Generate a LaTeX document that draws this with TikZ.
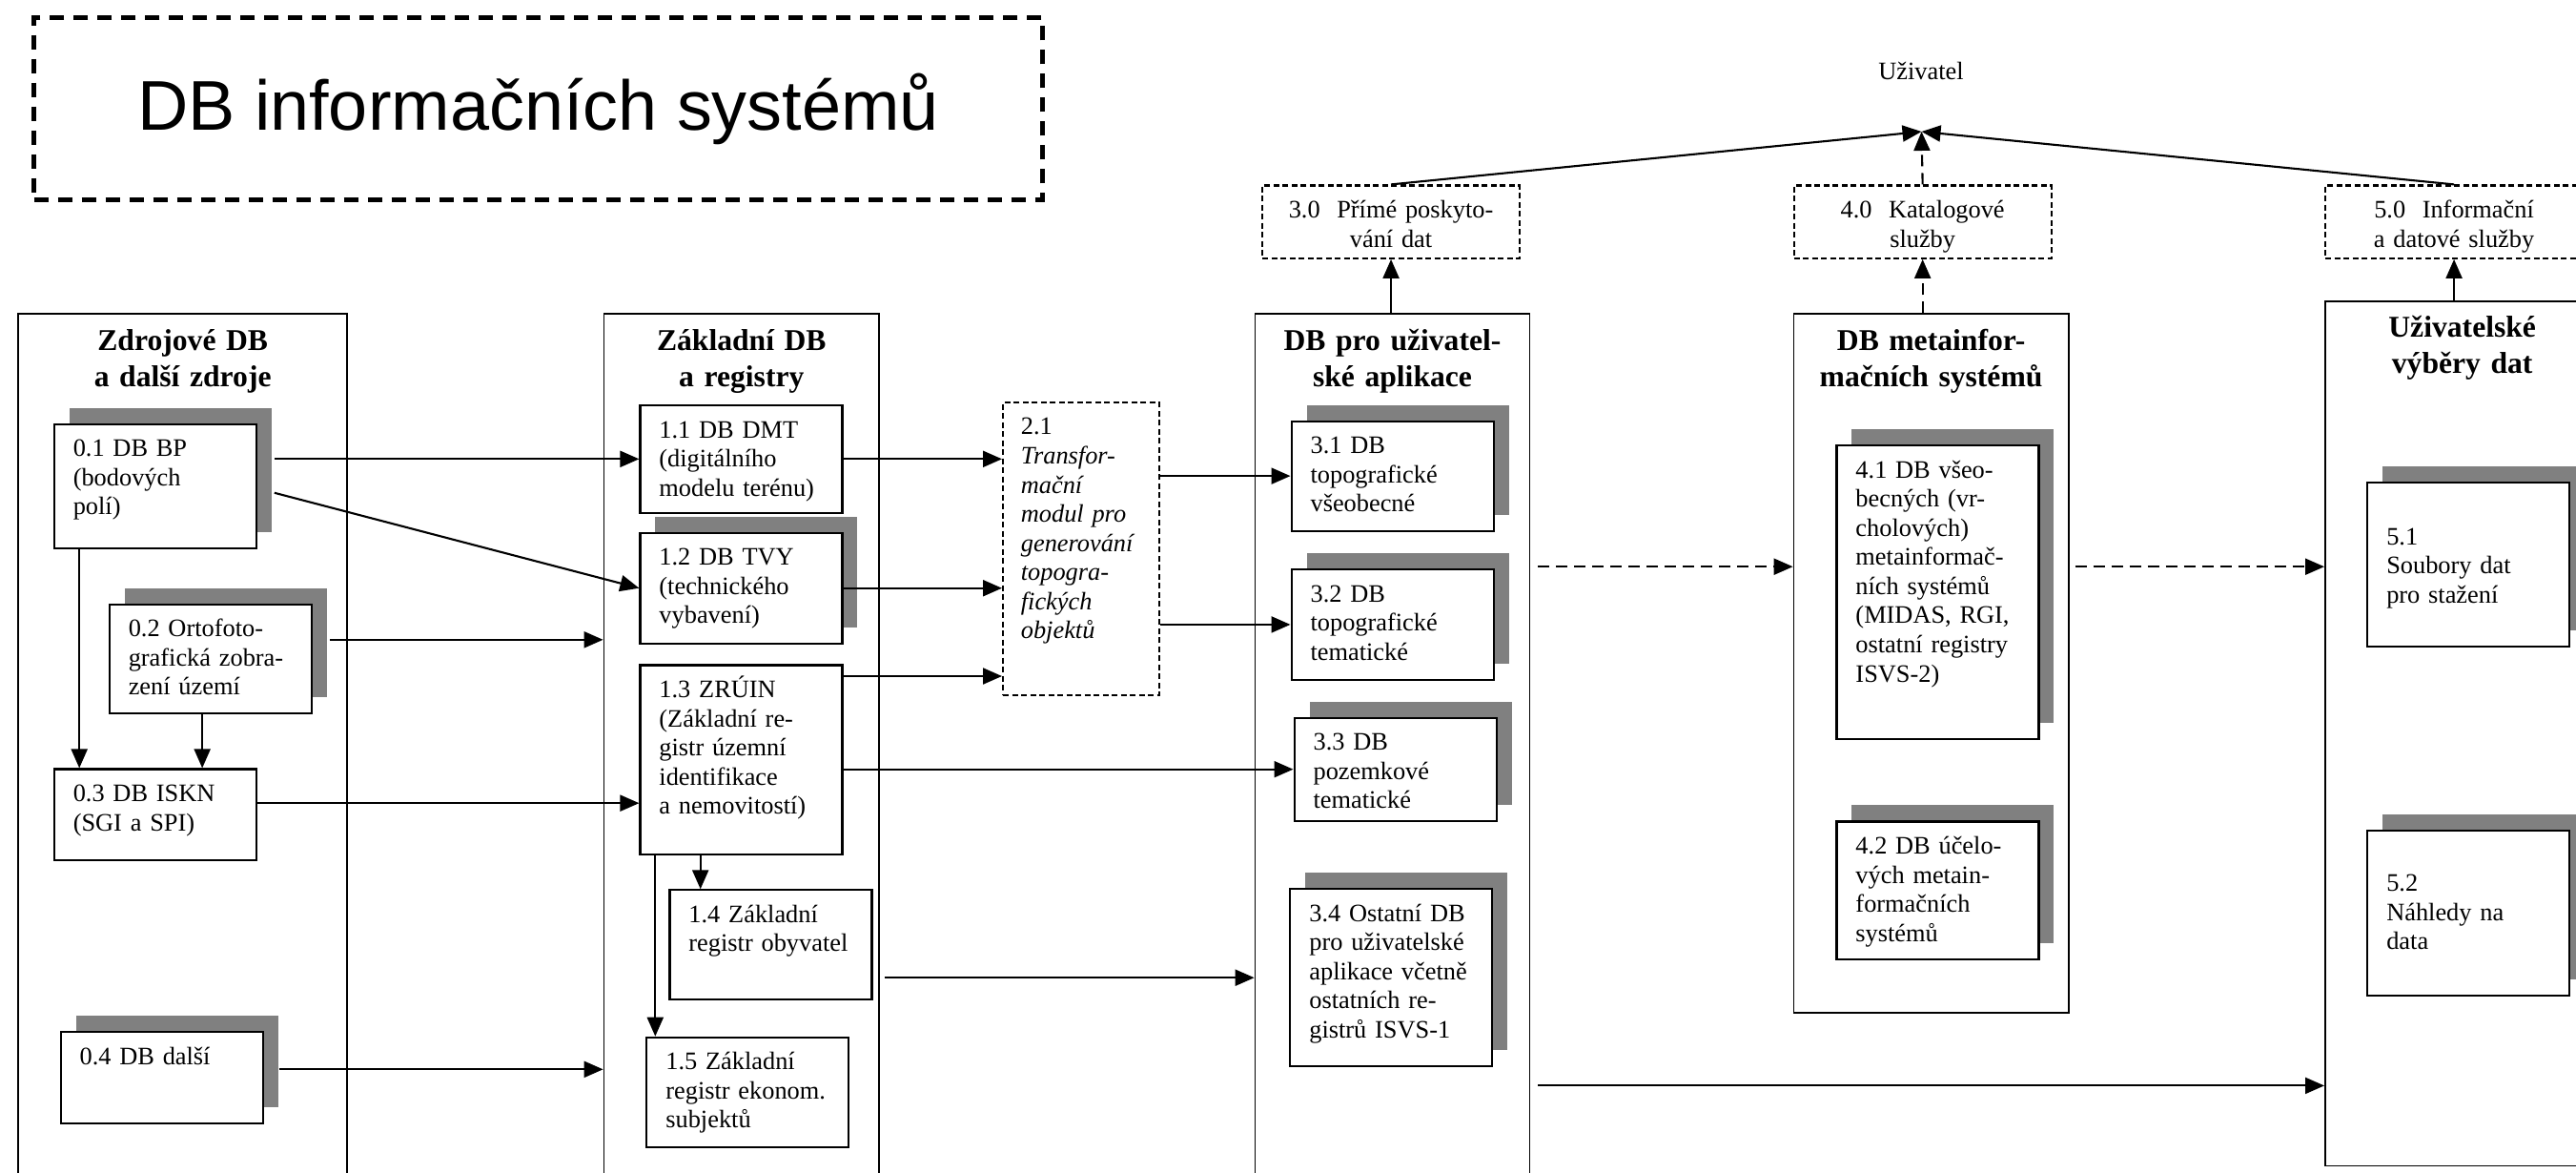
\documentclass[tikz,border=0pt]{standalone}
\usepackage{fontspec}
\setmainfont{Liberation Serif}
\newfontfamily\headfont{Liberation Sans}
\usetikzlibrary{positioning,arrows.meta,shadows}

\newcommand{\dbfont}{\fontsize{7.5}{8.7}\selectfont}
\newcommand{\colfont}{\fontsize{9}{10.65}\selectfont\bfseries}

\begin{document}
\begin{tikzpicture}
    % Define styles
    \tikzstyle{dbcolumn} = [rectangle, draw=black, line width=0.5pt, anchor=north west, align=center, inner sep=0pt, text height=0.387cm, font=\colfont]
    \tikzstyle{dbbox} = [rectangle, draw=black, fill=white, line width=0.6pt, anchor=north west, align=left, inner xsep=0.2cm, inner ysep=0pt, text width=1.72cm, text height=0.34cm, font=\dbfont]
    \tikzstyle{shadowbox} = [drop shadow={shadow xshift=0.16cm, shadow yshift=0.17cm, fill=gray, opacity=1}]
    \tikzstyle{tbox} = [dbbox, dash pattern=on 0.06cm off 0.035cm]
    \tikzstyle{svcbox} = [tbox, align=center, text width=2.3cm, text height=0.345cm, text depth=0.419cm]
    \tikzstyle{flow} = [line width=0.6pt, -{Triangle[length=0.2cm, width=0.17cm]}]
    \tikzstyle{dflow} = [flow, dash pattern=on 0.12cm off 0.07cm]

    \fill[white, use as bounding box] (0,0) rectangle (27.02,-12.29);

    % Title
    \node[draw, line width=1.3pt, dash pattern=on 0.15cm off 0.1cm, minimum width=10.578cm, minimum height=1.911cm, inner sep=0pt, font=\headfont\fontsize{21}{25}\selectfont] (title) at (5.645,-1.14) {DB informačních systémů};

    % Columns
    \node[dbcolumn, text width=3.449cm, text depth=8.93cm] (col1) at (0.184,-3.283) {Zdrojové DB\\a další zdroje};
    \node[dbcolumn, text width=2.886cm, text depth=8.93cm] (col2) at (6.326,-3.283) {Základní DB\\a registry};
    \node[dbcolumn, text width=2.881cm, text depth=8.93cm] (col3) at (13.156,-3.283) {DB pro uživatel-\\ské aplikace};
    \node[dbcolumn, text width=2.882cm, text depth=6.944cm] (col4) at (18.806,-3.283) {DB metainfor-\\mačních systémů};
    \node[dbcolumn, text width=2.876cm, text height=0.379cm, text depth=8.686cm] (col5) at (24.38,-3.151) {Uživatelské\\výběry dat};

    % Source databases
    \node[dbbox, shadowbox, text depth=0.96cm] (b01) at (0.557,-4.437) {0.1 DB BP\\(bodových\\polí)};
    \node[dbbox, shadowbox, text depth=0.803cm] (b02) at (1.137,-6.326) {0.2 Ortofoto-\\grafická zobra-\\zení území};
    \node[dbbox, text depth=0.614cm] (b03) at (0.557,-8.054) {0.3 DB ISKN\\(SGI a SPI)};
    \node[dbbox, shadowbox, text depth=0.615cm] (b04) at (0.626,-10.81) {0.4 DB další};

    % Basic databases and registers
    \node[dbbox, text depth=0.785cm] (b11) at (6.704,-4.24) {1.1 DB DMT\\(digitálního\\modelu terénu)};
    \node[dbbox, shadowbox, text depth=0.821cm, below=0.19cm of b11] (b12) {1.2 DB TVY\\(technického\\vybavení)};
    \node[dbbox, text depth=1.643cm] (b13) at (6.704,-6.964) {1.3 ZRÚIN\\(Základní re-\\gistr územní\\identifikace\\a nemovitostí)};
    \node[dbbox, text depth=0.805cm] (b14) at (7.014,-9.323) {1.4 Základní\\registr obyvatel};
    \node[dbbox, text depth=0.815cm] (b15) at (6.773,-10.867) {1.5 Základní\\registr ekonom.\\subjektů};

    % Transformation module
    \node[tbox, text width=1.26cm, inner xsep=0.188cm, text depth=2.735cm] (b21) at (10.51,-4.208) {2.1\\\itshape Transfor-\\mační\\modul pro\\generování\\topogra-\\fických\\objektů};

    % User application databases
    \node[svcbox] (b30) at (13.23,-1.934) {3.0\ \ Přímé poskyto-\\vání dat};
    \node[dbbox, shadowbox, text depth=0.809cm] (b31) at (13.535,-4.406) {3.1 DB\\topografické\\všeobecné};
    \node[dbbox, shadowbox, text depth=0.815cm, below=0.385cm of b31] (b32) {3.2 DB\\topografické\\tematické};
    \node[dbbox, shadowbox, text depth=0.738cm, below=0.38cm of b32, xshift=0.03cm] (b33) {3.3 DB\\pozemkové\\tematické};
    \node[dbbox, shadowbox, text depth=1.521cm] (b34) at (13.523,-9.311) {3.4 Ostatní DB\\pro uživatelské\\aplikace včetně\\ostatních re-\\gistrů ISVS-1};

    % Metainformation systems
    \node[svcbox] (b40) at (18.806,-1.934) {4.0\ \ Katalogové\\služby};
    \node[dbbox, shadowbox, text depth=2.738cm] (b41) at (19.254,-4.66) {4.1 DB všeo-\\becných (vr-\\cholových)\\metainformač-\\ních systémů\\(MIDAS, RGI,\\ostatní registry\\ISVS-2)};
    \node[dbbox, shadowbox, text depth=1.108cm, below=0.845cm of b41] (b42) {4.2 DB účelo-\\vých metain-\\formačních\\systémů};

    % User data selections
    \node[svcbox] (b50) at (24.38,-1.934) {5.0\ \ Informační\\a datové služby};
    \node[dbbox, shadowbox, text height=0.65cm, text depth=1.073cm] (b51) at (24.822,-5.05) {5.1\\Soubory dat\\pro stažení};
    \node[dbbox, shadowbox, text height=0.637cm, text depth=1.091cm] (b52) at (24.822,-8.697) {5.2\\Náhledy na\\data};

    % User
    \node[font=\dbfont, anchor=base] (user) at (20.15,-0.832) {Uživatel};
    \coordinate (apex) at (20.155,-1.38);
    \coordinate (mid) at (0,-5.942);
    \coordinate (low) at (0,-11.384);

    % Connections
    \draw[flow] ([xshift=0.18cm]b01.east |- b11.west) -- (b11.west);
    \draw[flow] ([shift={(0.18cm,-0.07cm)}]b01.east) -- (b12.west);
    \draw[flow] ([xshift=0.275cm]b01.south west) -- ([xshift=0.275cm]b03.north west);
    \draw[flow] ([xshift=-0.086cm]b02.south) -- ([xshift=-0.086cm]b02.south |- b03.north);
    \draw[flow] ([shift={(0.18cm,0.2cm)}]b02.east) coordinate (o2) -- (o2 -| col2.west);
    \draw[flow] ([yshift=0.12cm]b03.east) coordinate (o3) -- (o3 -| b13.west);
    \draw[flow] ([shift={(0.16cm,0.085cm)}]b04.east) coordinate (o4) -- (o4 -| col2.west);
    \draw[flow] (b11.east) -- (b11.east -| b21.west);
    \draw[flow] (b12.east) -- (b12.east -| b21.west);
    \draw[flow] ([yshift=-0.126cm]b13.north east) coordinate (o13) -- (o13 -| b21.west);
    \draw[flow] (b13.east |- b33.west) -- (b33.west);
    \draw[flow] ([xshift=0.333cm]b14.north west |- b13.south) -- ([xshift=0.333cm]b14.north west);
    \draw[flow] ([xshift=0.1cm]b15.north west |- b13.south) -- ([xshift=0.1cm]b15.north west);
    \draw[flow] ([xshift=0.05cm]col2.east |- b34.west) -- (col3.west |- b34.west);
    \draw[flow] (b21.east |- b31.west) -- (b31.west);
    \draw[flow] (b21.east |- b32.west) -- (b32.west);
    \draw[flow] (b30.south |- col3.north) -- (b30.south);
    \draw[dflow] ([xshift=0.08cm]col3.east |- mid) -- (col4.west |- mid);
    \draw[dflow] ([xshift=0.06cm]col4.east |- mid) -- (col5.west |- mid);
    \draw[flow] ([xshift=0.08cm]col3.east |- low) -- (col5.west |- low);
    \draw[dflow] (b40.south |- col4.north) -- (b40.south);
    \draw[flow] (b50.south |- col5.north) -- (b50.south);
    \draw[flow] (b30.north) -- (apex);
    \draw[dflow] (b40.north) -- (apex);
    \draw[flow] (b50.north) -- (apex);
\end{tikzpicture}
\end{document}
